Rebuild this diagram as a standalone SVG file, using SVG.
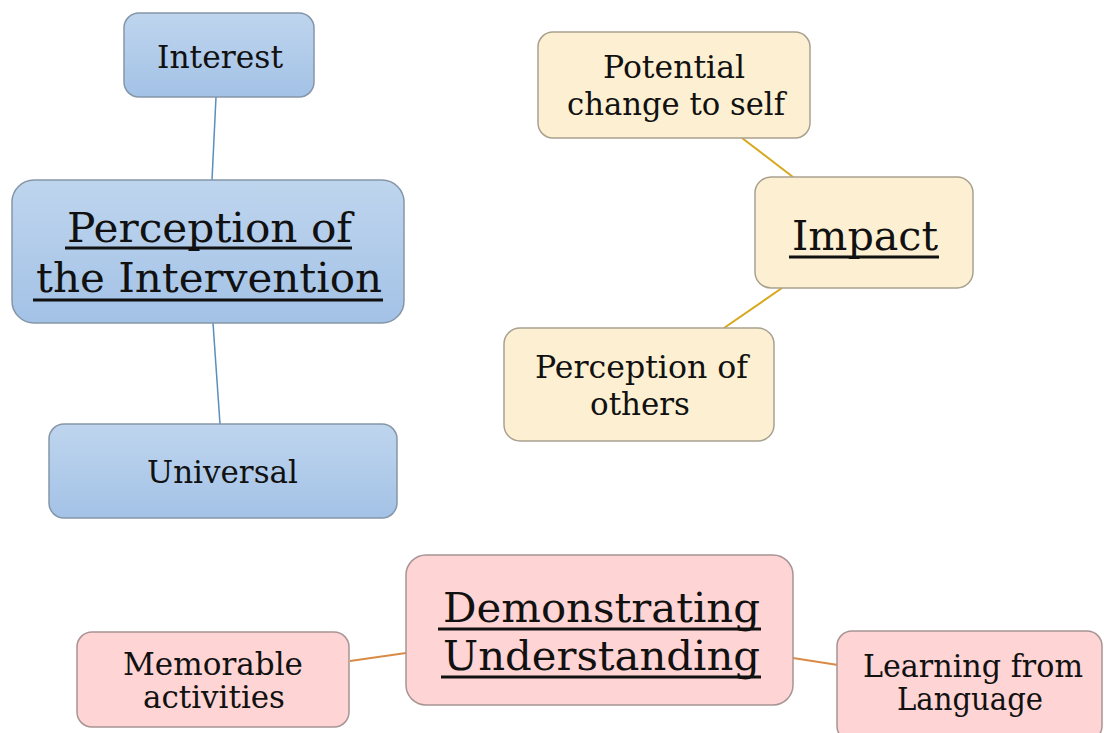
<svg xmlns="http://www.w3.org/2000/svg" width="1104" height="733" viewBox="0 0 1104 733">
<defs>
<linearGradient id="gBlue" x1="0" y1="0" x2="0" y2="1">
<stop offset="0" stop-color="#bfd5ee"/>
<stop offset="1" stop-color="#a3c2e6"/>
</linearGradient>
<style>
.blue{fill:url(#gBlue);stroke:#8596a8;stroke-width:1.5}
.yel{fill:#fdf0d2;stroke:#a8a190;stroke-width:1.5}
.pink{fill:#fed4d4;stroke:#a89494;stroke-width:1.5}
text{font-family:"DejaVu Serif","Liberation Serif",serif;fill:#111;text-anchor:start}
.s{font-size:31px}
.b{font-size:41px}
.ul{stroke:#111;stroke-width:3}
.cb{stroke:#5a8ebd;stroke-width:1.5;fill:none}
.cy{stroke:#d7a81e;stroke-width:2;fill:none}
.co{stroke:#d98a45;stroke-width:2;fill:none}
</style>
</defs>
<rect width="1104" height="733" fill="#fff"/>
<g id="connectors">
<line class="cb" x1="216" y1="97" x2="212" y2="180"/>
<line class="cb" x1="213" y1="323" x2="220" y2="424"/>
<line class="cy" x1="742" y1="138" x2="793" y2="177"/>
<line class="cy" x1="782" y1="288" x2="724" y2="328"/>
<line class="co" x1="350" y1="661" x2="406" y2="653"/>
<line class="co" x1="793" y1="658" x2="838" y2="665"/>
</g>
<g id="interest">
<rect class="blue" x="124" y="13" width="190" height="84" rx="15"/>
<text class="s" x="157" y="68" textLength="126" lengthAdjust="spacingAndGlyphs">Interest</text>
</g>
<g id="perception-intervention">
<rect class="blue" x="12" y="180" width="392" height="143" rx="22"/>
<text class="b" x="67" y="242" textLength="285" lengthAdjust="spacingAndGlyphs">Perception of</text>
<text class="b" x="36" y="292" textLength="346" lengthAdjust="spacingAndGlyphs">the Intervention</text>
<line class="ul" x1="65" y1="248" x2="352" y2="248"/>
<line class="ul" x1="33" y1="300" x2="383" y2="300"/>
</g>
<g id="universal">
<rect class="blue" x="49" y="424" width="348" height="94" rx="15"/>
<text class="s" x="147" y="483" textLength="151" lengthAdjust="spacingAndGlyphs">Universal</text>
</g>
<g id="potential-change">
<rect class="yel" x="538" y="32" width="272" height="106" rx="15"/>
<text class="s" x="603" y="78" textLength="142" lengthAdjust="spacingAndGlyphs">Potential</text>
<text class="s" x="567" y="115" textLength="218" lengthAdjust="spacingAndGlyphs">change to self</text>
</g>
<g id="impact">
<rect class="yel" x="755" y="177" width="218" height="111" rx="16"/>
<text class="b" x="792" y="250" textLength="146" lengthAdjust="spacingAndGlyphs">Impact</text>
<line class="ul" x1="789" y1="257" x2="939" y2="257"/>
</g>
<g id="perception-others">
<rect class="yel" x="504" y="328" width="270" height="113" rx="16"/>
<text class="s" x="535" y="378" textLength="213" lengthAdjust="spacingAndGlyphs">Perception of</text>
<text class="s" x="590" y="415" textLength="100" lengthAdjust="spacingAndGlyphs">others</text>
</g>
<g id="demonstrating-understanding">
<rect class="pink" x="406" y="555" width="387" height="150" rx="20"/>
<text class="b" x="443" y="622" textLength="317" lengthAdjust="spacingAndGlyphs">Demonstrating</text>
<text class="b" x="443" y="670" textLength="317" lengthAdjust="spacingAndGlyphs">Understanding</text>
<line class="ul" x1="438" y1="629" x2="761" y2="629"/>
<line class="ul" x1="441" y1="677" x2="761" y2="677"/>
</g>
<g id="memorable-activities">
<rect class="pink" x="77" y="632" width="272" height="95" rx="15"/>
<text class="s" x="123" y="675" textLength="180" lengthAdjust="spacingAndGlyphs">Memorable</text>
<text class="s" x="143" y="708" textLength="142" lengthAdjust="spacingAndGlyphs">activities</text>
</g>
<g id="learning-language">
<rect class="pink" x="837" y="631" width="265" height="110" rx="15"/>
<text class="s" x="863" y="677" textLength="220" lengthAdjust="spacingAndGlyphs">Learning from</text>
<text class="s" x="897" y="710" textLength="146" lengthAdjust="spacingAndGlyphs">Language</text>
</g>
</svg>
